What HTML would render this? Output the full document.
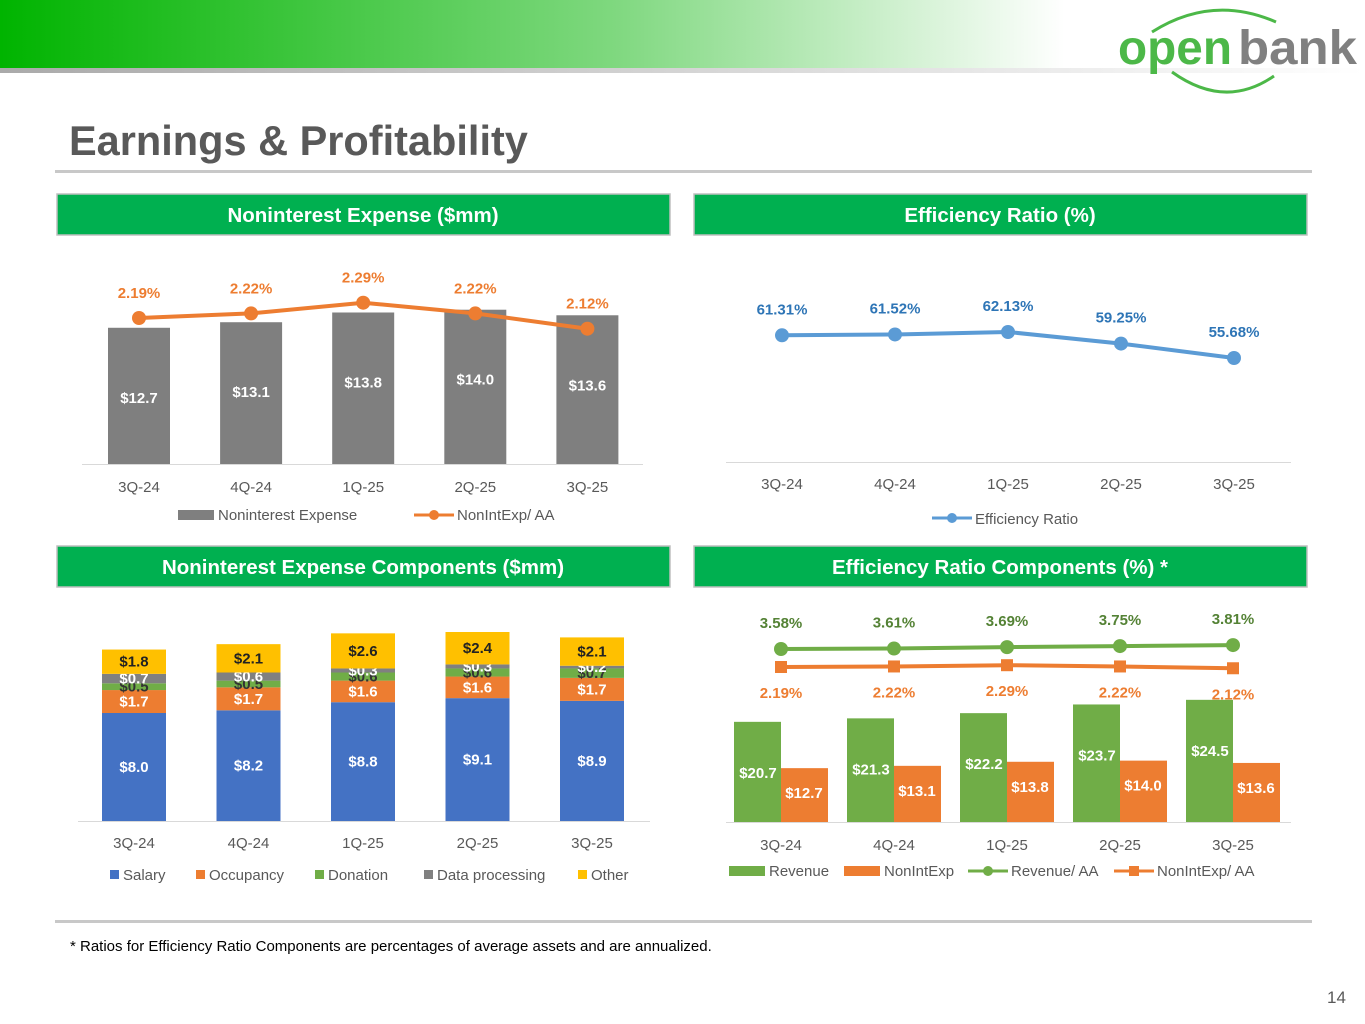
<!DOCTYPE html>
<html><head><meta charset="utf-8"><style>
body{margin:0;background:#fff;}
svg{display:block;font-family:"Liberation Sans",sans-serif;}
</style></head><body>
<svg id="s" width="1365" height="1024" viewBox="0 0 1365 1024" xmlns="http://www.w3.org/2000/svg">
<defs>
<linearGradient id="bg" x1="0" x2="1" y1="0" y2="0">
<stop offset="0" stop-color="#00b400"/><stop offset="0.45" stop-color="#7fd87f"/><stop offset="0.78" stop-color="#ffffff"/></linearGradient>
<linearGradient id="gl" x1="0" x2="1"><stop offset="0" stop-color="#aaa"/><stop offset="0.8" stop-color="#eee"/><stop offset="1" stop-color="#fff"/></linearGradient>
</defs>
<rect x="0" y="0" width="1365" height="68" fill="url(#bg)"/>
<rect x="0" y="68" width="1365" height="5" fill="url(#gl)"/>
<g>
<path d="M1152 32 Q1212 -6 1276 22" fill="none" stroke="#4cb848" stroke-width="3"/>
<path d="M1172 72 Q1225 110 1274 76" fill="none" stroke="#4cb848" stroke-width="3"/>
<text x="1118" y="64" font-size="48" font-weight="bold" fill="#4cb848" textLength="114" lengthAdjust="spacingAndGlyphs">open</text>
<text x="1238" y="64" font-size="48" font-weight="bold" fill="#808080" textLength="119" lengthAdjust="spacingAndGlyphs">bank</text>
</g>
<text x="69" y="155" font-size="41.5" font-weight="bold" fill="#595959">Earnings &amp; Profitability</text>
<rect x="55" y="170" width="1257" height="3" fill="#c8c8c8"/>
<rect x="55" y="920" width="1257" height="3" fill="#c8c8c8"/>
<text x="70" y="951" font-size="15" fill="#000">* Ratios for Efficiency Ratio Components are percentages of average assets and are annualized.</text>
<text x="1327" y="1003" font-size="17" fill="#595959">14</text>
<g id="root"></g>
</svg>
<script>
const quarters=["3Q-24","4Q-24","1Q-25","2Q-25","3Q-25"];
const nieValues=[12.7,13.1,13.8,14.0,13.6];
const nieAAValues=[2.19,2.22,2.29,2.22,2.12];
const effValues=[61.31,61.52,62.13,59.25,55.68];
const salary=[8.0,8.2,8.8,9.1,8.9];
const occupancy=[1.7,1.7,1.6,1.6,1.7];
const donation=[0.5,0.5,0.6,0.6,0.7];
const dataProc=[0.7,0.6,0.3,0.3,0.2];
const other=[1.8,2.1,2.6,2.4,2.1];
const revenue=[20.7,21.3,22.2,23.7,24.5];
const nonIntExp=[12.7,13.1,13.8,14.0,13.6];
const revAA=[3.58,3.61,3.69,3.75,3.81];
const nieAA2=[2.19,2.22,2.29,2.22,2.12];

const NS="http://www.w3.org/2000/svg";
const root=document.getElementById('root');
function el(tag,a,txt){const e=document.createElementNS(NS,tag);for(const k in a)e.setAttribute(k,a[k]);if(txt!==undefined)e.textContent=txt;root.appendChild(e);return e;}
function t(x,y,s,o){return el('text',Object.assign({x:x,y:y,'text-anchor':'middle','font-size':15,fill:'#595959'},o||{}),s);}

// headers
[["Noninterest Expense ($mm)",57,194],["Efficiency Ratio (%)",694,194],["Noninterest Expense Components ($mm)",57,546],["Efficiency Ratio Components (%) *",694,546]].forEach(h=>{
 const r=el('rect',{x:h[1],y:h[2],width:613,height:41,fill:'#00b050',stroke:'#bfbfbf','stroke-width':1.5});
 
 
 const tx=t(h[1]+306,h[2]+28,h[0],{fill:'#fff','font-size':20.5,'font-weight':'bold'});
 
 
});

// Chart 1
const c1x=i=>139+i*112.1;
const c1y=v=>464-(v-2.9)*13.9;
const c1l=v=>318-(v-2.19)*153;
el('line',{x1:82,x2:643,y1:464.5,y2:464.5,stroke:'#d9d9d9'});
nieValues.forEach((v,i)=>{
 const r=el('rect',{x:c1x(i)-31,y:c1y(v),width:62,height:464-c1y(v),fill:'#7f7f7f'});
 
 
 t(c1x(i),c1y(v)+75,'$'+v.toFixed(1),{fill:'#fff','font-weight':'bold'});
 t(c1x(i),492,quarters[i]);
});
el('polyline',{points:nieAAValues.map((v,i)=>c1x(i)+','+c1l(v)).join(' '),fill:'none',stroke:'#ed7d31','stroke-width':4});
nieAAValues.forEach((v,i)=>{
 const c=el('circle',{cx:c1x(i),cy:c1l(v),r:7,fill:'#ed7d31'});
 
 
 t(c1x(i),c1l(v)-20,v.toFixed(2)+'%',{fill:'#ed7d31','font-weight':'bold'});
});
el('rect',{x:178,y:510,width:36,height:10,fill:'#7f7f7f'});
t(218,520,'Noninterest Expense',{'text-anchor':'start'});
el('line',{x1:414,x2:454,y1:515,y2:515,stroke:'#ed7d31','stroke-width':3});
el('circle',{cx:434,cy:515,r:5,fill:'#ed7d31'});
t(457,520,'NonIntExp/ AA',{'text-anchor':'start'});

// Chart 2
const c2x=i=>782+i*113;
const c2y=v=>332-(v-62.13)*4.03;
el('line',{x1:726,x2:1291,y1:462.5,y2:462.5,stroke:'#d9d9d9'});
quarters.forEach((q,i)=>t(c2x(i),489,q));
el('polyline',{points:effValues.map((v,i)=>c2x(i)+','+c2y(v)).join(' '),fill:'none',stroke:'#5b9bd5','stroke-width':4});
effValues.forEach((v,i)=>{
 const c=el('circle',{cx:c2x(i),cy:c2y(v),r:7,fill:'#5b9bd5'});
 
 
 t(c2x(i),c2y(v)-21,v.toFixed(2)+'%',{fill:'#2e75b6','font-weight':'bold'});
});
el('line',{x1:932,x2:972,y1:518,y2:518,stroke:'#5b9bd5','stroke-width':3});
el('circle',{cx:952,cy:518,r:5,fill:'#5b9bd5'});
t(975,524,'Efficiency Ratio',{'text-anchor':'start'});

// Chart 3
const c3x=i=>134+i*114.5;
const K=13.5, base3=821;
el('line',{x1:78,x2:650,y1:821.5,y2:821.5,stroke:'#d9d9d9'});
const series=[[salary,'#4472c4','#fff','salary'],[occupancy,'#ed7d31','#fff','occupancy'],[donation,'#70ad47','#333','donation'],[dataProc,'#808080','#fff','data-processing'],[other,'#ffc000','#222','other']];
quarters.forEach((q,i)=>{
 let cum=0;
 series.forEach(s=>{
  const v=s[0][i];const y0=base3-cum*K;const h=v*K;cum+=v;
  const r=el('rect',{x:c3x(i)-32,y:y0-h,width:64,height:h,fill:s[1]});
  
  
  t(c3x(i),y0-h/2+5,'$'+v.toFixed(1),{fill:s[2],'font-weight':'bold'});
 });
 t(c3x(i),848,q);
});
[['Salary',110,'#4472c4'],['Occupancy',196,'#ed7d31'],['Donation',315,'#70ad47'],['Data processing',424,'#808080'],['Other',578,'#ffc000']].forEach(l=>{
 el('rect',{x:l[1],y:870,width:9,height:9,fill:l[2]});
 t(l[1]+13,880,l[0],{'text-anchor':'start'});
});

// Chart 4
const c4x=i=>781+i*113;
const c4y=v=>822-(v-3.4)*5.79;
const ra=v=>649-(v-3.58)*17;
const na=v=>667-(v-2.19)*18;
el('line',{x1:726,x2:1291,y1:822.5,y2:822.5,stroke:'#d9d9d9'});
quarters.forEach((q,i)=>{
 const x=c4x(i);
 const r1=el('rect',{x:x-47,y:c4y(revenue[i]),width:47,height:822-c4y(revenue[i]),fill:'#70ad47'});
 
 
 const r2=el('rect',{x:x,y:c4y(nonIntExp[i]),width:47,height:822-c4y(nonIntExp[i]),fill:'#ed7d31'});
 
 
 t(x-23,c4y(revenue[i])+56,'$'+revenue[i].toFixed(1),{fill:'#fff','font-weight':'bold'});
 t(x+23,c4y(nonIntExp[i])+30,'$'+nonIntExp[i].toFixed(1),{fill:'#fff','font-weight':'bold'});
 t(x,850,q);
});
el('polyline',{points:revAA.map((v,i)=>c4x(i)+','+ra(v)).join(' '),fill:'none',stroke:'#70ad47','stroke-width':4});
el('polyline',{points:nieAA2.map((v,i)=>c4x(i)+','+na(v)).join(' '),fill:'none',stroke:'#ed7d31','stroke-width':4});
revAA.forEach((v,i)=>{
 const c=el('circle',{cx:c4x(i),cy:ra(v),r:7,fill:'#70ad47'});
 
 
 t(c4x(i),ra(v)-21,v.toFixed(2)+'%',{fill:'#548235','font-weight':'bold'});
});
nieAA2.forEach((v,i)=>{
 const r=el('rect',{x:c4x(i)-6,y:na(v)-6,width:12,height:12,fill:'#ed7d31'});
 
 
 t(c4x(i),na(v)+31,v.toFixed(2)+'%',{fill:'#ed7d31','font-weight':'bold'});
});
el('rect',{x:729,y:866,width:36,height:10,fill:'#70ad47'});
t(769,876,'Revenue',{'text-anchor':'start'});
el('rect',{x:844,y:866,width:36,height:10,fill:'#ed7d31'});
t(884,876,'NonIntExp',{'text-anchor':'start'});
el('line',{x1:968,x2:1008,y1:871,y2:871,stroke:'#70ad47','stroke-width':3});
el('circle',{cx:988,cy:871,r:5,fill:'#70ad47'});
t(1011,876,'Revenue/ AA',{'text-anchor':'start'});
el('line',{x1:1114,x2:1154,y1:871,y2:871,stroke:'#ed7d31','stroke-width':3});
el('rect',{x:1129,y:866,width:10,height:10,fill:'#ed7d31'});
t(1157,876,'NonIntExp/ AA',{'text-anchor':'start'});
</script>
</body></html>
